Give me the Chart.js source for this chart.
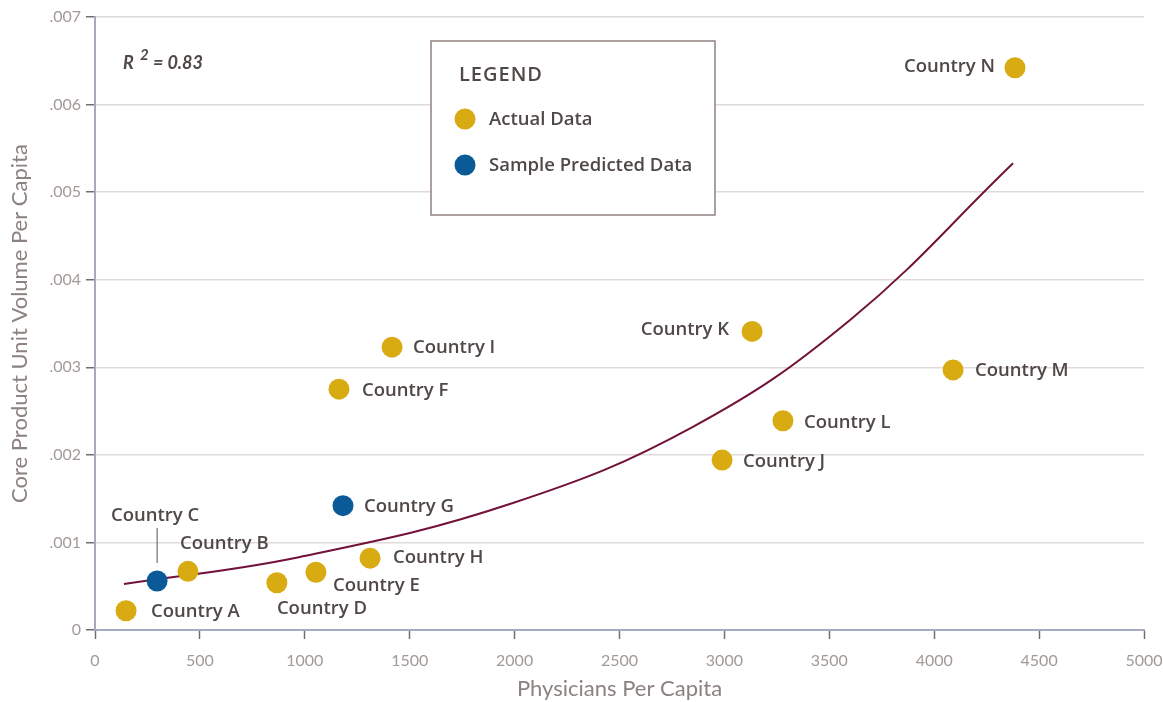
<!DOCTYPE html>
<html>
<head>
<meta charset="utf-8">
<script src="https://cdn.jsdelivr.net/npm/chart.js@4"></script>
<style>
  body { margin: 0; background: #ffffff; }
  #wrap { width: 1163px; height: 702px; }
</style>
</head>
<body>
<div id="wrap"><canvas id="physChart" width="1163" height="702"></canvas></div>
<script>
// ---------------- DATA ----------------

const actualNames = ["Country A", "Country B", "Country D", "Country E", "Country F", "Country H",
                     "Country I", "Country J", "Country K", "Country L", "Country M", "Country N"];
const actualX = [148, 443, 867, 1053, 1163, 1311, 1416, 2989, 3132, 3279, 4090, 4385];
const actualY = [0.00022, 0.00067, 0.00054, 0.00066, 0.00275, 0.00082, 0.00323, 0.00194, 0.00341, 0.00239, 0.00297, 0.00642];

const predictedNames = ["Country C", "Country G"];
const predictedX = [296, 1182];
const predictedY = [0.00056, 0.00142];

// trend curve
const trendX = [138, 977, 1992, 2850, 3599, 4376];
const trendY = [0.000525, 0.000834, 0.00145, 0.00232, 0.00354, 0.00533];

const rSquared = "0.83";

// ---------------- STYLE ----------------

const GOLD = "#d8ab13";
const BLUE = "#0b5a98";
const MAROON = "#72123a";
const TEXT_DARK = "#4f4846";
const TICK_GREY = "#a29a97";
const AXIS_BLUE = "#a5aabf";
const FONT = "Lato, 'Open Sans', sans-serif";
const LABEL_FONT = "'Open Sans', Lato, sans-serif";

// label placement relative to each point: side + pixel nudges
const labelPlace = {
    "Country A": { align: "left", dx: 25, dy: 1 },
    "Country B": { align: "left", dx: -8, dy: -28 },
    "Country C": { align: "center", dx: -2, dy: -65, leader: true },
    "Country D": { align: "left", dx: 0, dy: 26 },
    "Country E": { align: "left", dx: 17, dy: 14 },
    "Country F": { align: "left", dx: 23, dy: 2 },
    "Country G": { align: "left", dx: 21, dy: 1 },
    "Country H": { align: "left", dx: 23, dy: 0 },
    "Country I": { align: "left", dx: 21, dy: 1 },
    "Country J": { align: "left", dx: 21, dy: 2 },
    "Country K": { align: "right", dx: -23, dy: -2 },
    "Country L": { align: "left", dx: 21, dy: 2 },
    "Country M": { align: "left", dx: 22, dy: 1 },
    "Country N": { align: "right", dx: -20, dy: -1 }
};

function toPoints(xs, ys) {
    return xs.map((x, i) => ({ x: x, y: ys[i] }));
}

// ---------------- PLUGINS ----------------

const pointLabels = {
    id: "pointLabels",
    afterDatasetsDraw(chart) {
        const ctx = chart.ctx;
        ctx.save();
        ctx.font = "600 18.5px " + LABEL_FONT;
        ctx.fillStyle = TEXT_DARK;
        ctx.textBaseline = "middle";
        [0, 1].forEach(di => {
            const names = chart.data.datasets[di].names;
            chart.getDatasetMeta(di).data.forEach((pt, i) => {
                const p = labelPlace[names[i]];
                ctx.textAlign = p.align;
                ctx.fillText(names[i], pt.x + p.dx, pt.y + p.dy);
                if (p.leader) {
                    ctx.strokeStyle = "#5b5351";
                    ctx.lineWidth = 1;
                    ctx.beginPath();
                    ctx.moveTo(pt.x, pt.y - 18);
                    ctx.lineTo(pt.x, pt.y + p.dy + 12);
                    ctx.stroke();
                }
            });
        });
        ctx.restore();
    }
};

const legendBox = {
    id: "legendBox",
    afterDraw(chart) {
        const ctx = chart.ctx;
        ctx.save();
        ctx.fillStyle = "#ffffff";
        ctx.strokeStyle = "#8e8380";
        ctx.lineWidth = 1.5;
        ctx.fillRect(431, 41, 284, 174);
        ctx.strokeRect(431, 41, 284, 174);

        ctx.fillStyle = TEXT_DARK;
        ctx.textBaseline = "middle";
        ctx.textAlign = "left";
        ctx.font = "600 20px " + LABEL_FONT;
        ctx.letterSpacing = "1px";
        ctx.fillText("LEGEND", 459, 75);
        ctx.letterSpacing = "0px";

        ctx.font = "600 18.5px " + LABEL_FONT;
        [0, 1].forEach((di, k) => {
            const ds = chart.data.datasets[di];
            const y = 119 + k * 46;
            ctx.fillStyle = ds.backgroundColor;
            ctx.beginPath();
            ctx.arc(465, y, 10.5, 0, Math.PI * 2);
            ctx.fill();
            ctx.fillStyle = TEXT_DARK;
            ctx.fillText(ds.label, 489, y + 1);
        });

        // R squared note
        ctx.font = "italic bold 18px " + FONT;
        ctx.fillText("R", 123, 63);
        ctx.font = "italic bold 15px " + FONT;
        ctx.fillText("2", 140, 55);
        ctx.font = "italic bold 18px " + FONT;
        ctx.fillText("= " + rSquared, 153, 63);
        ctx.restore();
    }
};

// ---------------- SCATTER CHART ----------------

const physCtx =
document.getElementById("physChart");

new Chart(physCtx, {

    type: "scatter",

    data: {

        datasets: [

            {
                label: "Actual Data",
                names: actualNames,
                data: toPoints(actualX, actualY),
                backgroundColor: GOLD,
                borderWidth: 0,
                pointRadius: 10.5,
                order: 1
            },

            {
                label: "Sample Predicted Data",
                names: predictedNames,
                data: toPoints(predictedX, predictedY),
                backgroundColor: BLUE,
                borderWidth: 0,
                pointRadius: 10.5,
                order: 0
            },

            {
                type: "line",
                label: "Trend",
                data: toPoints(trendX, trendY),
                borderColor: MAROON,
                borderWidth: 2,
                pointRadius: 0,
                fill: false,
                tension: 0.4,
                order: 2
            }
        ]
    },

    options: {

        responsive: false,
        animation: false,

        layout: {
            padding: { top: 17, right: 0, left: 0, bottom: 0 }
        },

        plugins: {
            legend: { display: false },
            tooltip: { enabled: false }
        },

        scales: {

            x: {
                type: "linear",
                min: 0,
                max: 5000,
                afterFit: s => { s.height = 72; s.paddingRight = 19; s.paddingLeft = 0; },
                ticks: {
                    stepSize: 500,
                    color: TICK_GREY,
                    font: { family: FONT, size: 16 },
                    padding: 12,
                    callback: v => String(v)
                },
                grid: {
                    drawOnChartArea: false,
                    tickLength: 9,
                    tickColor: "#786d6a",
                    tickWidth: 1.5
                },
                border: { color: AXIS_BLUE, width: 2 },
                title: {
                    display: true,
                    text: "Physicians Per Capita",
                    color: "#8c8280",
                    font: { family: FONT, size: 22 },
                    padding: { top: 0, bottom: 0 }
                }
            },

            y: {
                min: 0,
                max: 0.007,
                afterFit: s => { s.width = 95; },
                ticks: {
                    stepSize: 0.001,
                    color: TICK_GREY,
                    font: { family: FONT, size: 16 },
                    padding: 5,
                    callback: v => v === 0 ? "0" : v.toFixed(3).replace(/^0/, "")
                },
                grid: {
                    color: "#e0dada",
                    lineWidth: 1.5,
                    tickLength: 9,
                    tickColor: "#786d6a",
                    tickWidth: 1.5
                },
                border: { color: AXIS_BLUE, width: 2 },
                title: {
                    display: true,
                    text: "Core Product Unit Volume Per Capita",
                    color: "#8c8280",
                    font: { family: FONT, size: 22 },
                    padding: { top: 7, bottom: 0 }
                }
            }
        }
    },

    plugins: [pointLabels, legendBox]
});
</script>
</body>
</html>
